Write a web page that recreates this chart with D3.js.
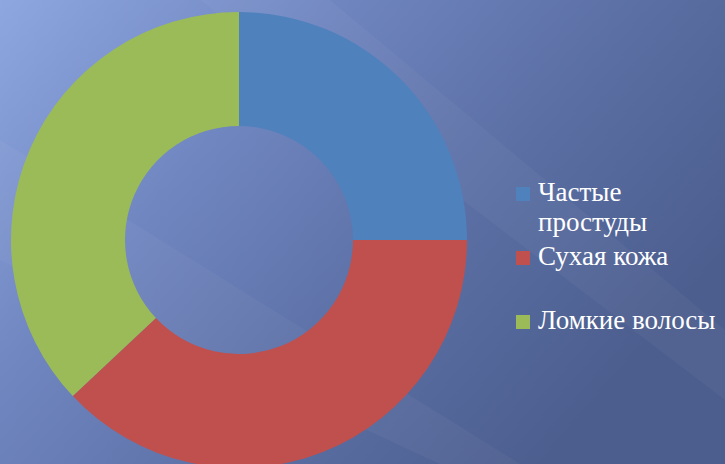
<!DOCTYPE html>
<html>
<head>
<meta charset="utf-8">
<script src="https://cdn.jsdelivr.net/npm/d3@7"></script>
<style>
  html, body { margin: 0; padding: 0; overflow: hidden; }
  svg { display: block; }
  .legend text { font-family: "Liberation Serif", "DejaVu Serif", "Times New Roman", serif; }
</style>
</head>
<body>
<script>
// data
const categories = ["Частые простуды", "Сухая кожа", "Ломкие волосы"];
const values = [25, 38, 37];
const legendLines = [["Частые", "простуды"], ["Сухая кожа"], ["Ломкие волосы"]];
const colors = ["#4f81bd", "#c0504d", "#9bbb59"];

const width = 725, height = 464;
const cx = 239, cy = 240, outer = 228, inner = 114;

const svg = d3.select("body").append("svg")
    .attr("width", width)
    .attr("height", height);

const defs = svg.append("defs");

const bg = defs.append("linearGradient")
    .attr("id", "bg")
    .attr("x1", 0).attr("y1", 0)
    .attr("x2", 1).attr("y2", 0.55);
bg.append("stop").attr("offset", 0).attr("stop-color", "#8ea7e0");
bg.append("stop").attr("offset", 0.35).attr("stop-color", "#7086c0");
bg.append("stop").attr("offset", 0.7).attr("stop-color", "#5a6ea3");
bg.append("stop").attr("offset", 1).attr("stop-color", "#4c5e8e");

svg.append("rect")
    .attr("width", width)
    .attr("height", height)
    .attr("fill", "url(#bg)");

// soft diagonal streaks in the background
const streaks = [
  [[0, 140], [0, 260], [440, 464], [520, 464]],
  [[200, 0], [330, 0], [725, 330], [725, 400]]
];
svg.append("g")
  .selectAll("path")
  .data(streaks)
  .join("path")
    .attr("d", d => d3.line()(d) + "Z")
    .attr("fill", "#ffffff")
    .attr("fill-opacity", 0.035);

const pie = d3.pie().sort(null).value(d => d.value);
const arc = d3.arc().innerRadius(inner).outerRadius(outer);
const color = d3.scaleOrdinal().domain(categories).range(colors);

const data = categories.map((c, i) => ({name: c, value: values[i]}));

svg.append("g")
    .attr("transform", `translate(${cx},${cy})`)
  .selectAll("path")
  .data(pie(data))
  .join("path")
    .attr("d", arc)
    .attr("fill", d => color(d.data.name));

// legend
const ly = d3.scalePoint().domain(categories).range([201, 329]);

const legend = svg.append("g")
    .attr("class", "legend")
    .attr("font-size", 27)
    .attr("fill", "#ffffff");

const item = legend.selectAll("g")
  .data(categories)
  .join("g")
    .attr("transform", d => `translate(516,${ly(d)})`);

item.append("rect")
    .attr("y", -14)
    .attr("width", 14)
    .attr("height", 14)
    .attr("fill", d => color(d));

item.append("text")
    .attr("x", 22)
  .selectAll("tspan")
  .data((d, i) => legendLines[i])
  .join("tspan")
    .attr("x", 22)
    .attr("dy", (d, i) => i ? 30 : 0)
    .text(d => d);
</script>
</body>
</html>
